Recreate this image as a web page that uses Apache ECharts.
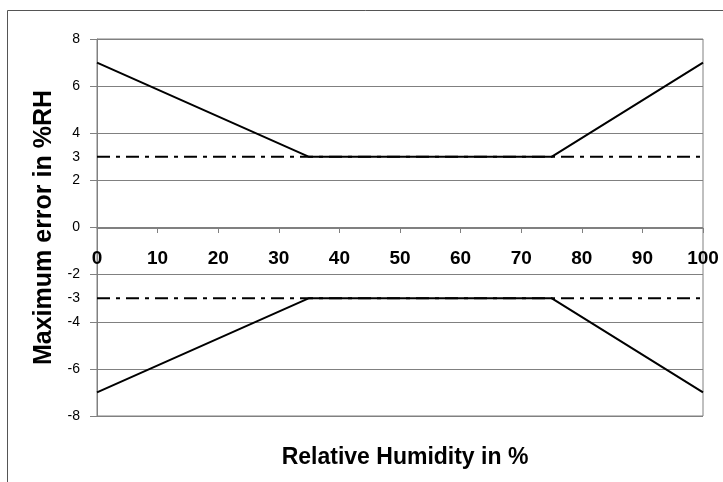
<!DOCTYPE html>
<html>
<head>
<meta charset="utf-8">
<script src="https://cdn.jsdelivr.net/npm/echarts@6/dist/echarts.min.js"></script>
<style>
  html, body { margin: 0; padding: 0; background: #fff; }
  #chart { width: 723px; height: 482px; }
</style>
</head>
<body>
<div id="chart"></div>
<script>
// humidity breakpoints (%RH) and max error envelope
const humidity = [0, 35, 75, 100];
const upperError = [7, 3, 3, 7];
const lowerError = [-7, -3, -3, -7];
// typical accuracy lines
const typicalX = [0, 100];
const typicalUpper = [3, 3];
const typicalLower = [-3, -3];
const yTicks = [-8, -6, -4, -2, 0, 2, 4, 6, 8];
const yLabels = [-8, -6, -4, -3, -2, 0, 2, 3, 4, 6, 8];

const font = "'Liberation Sans', Arial, sans-serif";
const gray = "#808080";

const pairs = (xs, ys) => xs.map((x, i) => [x, ys[i]]);

const chart = echarts.init(document.getElementById("chart"));

const solid = { color: "#000", width: 2 };
const dashDot = { color: "#000", width: 2, type: [13, 6, 4, 6] };

chart.setOption({
  animation: false,
  backgroundColor: "#fff",
  graphic: [
    {
      type: "rect",
      shape: { x: 7.5, y: 10.5, width: 800, height: 600 },
      style: { fill: "none", stroke: "#555", lineWidth: 1 },
      silent: true,
    },
  ],
  title: {
    text: "Relative Humidity in %",
    left: 400,
    textAlign: "center",
    top: 441,
    textStyle: { fontFamily: font, fontSize: 23, fontWeight: "bold", color: "#000" },
  },
  grid: {
    left: 97,
    right: 20,
    top: 39,
    bottom: 66,
    show: true,
    borderColor: gray,
    borderWidth: 1,
  },
  xAxis: {
    type: "value",
    min: 0,
    max: 100,
    interval: 10,
    // move the axis up to the zero line
    offset: -188,
    axisLine: { onZero: false, lineStyle: { color: gray, width: 1 } },
    axisTick: { length: 5, lineStyle: { color: gray } },
    axisLabel: {
      margin: 21,
      fontFamily: font,
      fontSize: 19,
      fontWeight: "bold",
      color: "#000",
    },
    splitLine: { show: false },
  },
  yAxis: {
    type: "value",
    min: -8,
    max: 8,
    interval: 2,
    name: "Maximum error in %RH",
    nameLocation: "middle",
    nameGap: 40,
    nameTextStyle: { fontFamily: font, fontSize: 25, fontWeight: "bold", color: "#000" },
    axisLine: { show: true, lineStyle: { color: gray } },
    axisTick: { show: true, length: 7, customValues: yTicks, lineStyle: { color: gray } },
    axisLabel: { margin: 17, customValues: yLabels, fontFamily: font, fontSize: 14, color: "#000" },
    splitLine: { show: true, lineStyle: { color: gray, width: 1 } },
  },
  series: [
    { type: "line", data: pairs(humidity, upperError), symbol: "none", lineStyle: solid },
    { type: "line", data: pairs(humidity, lowerError), symbol: "none", lineStyle: solid },
    { type: "line", data: pairs(typicalX, typicalUpper), symbol: "none", lineStyle: dashDot },
    { type: "line", data: pairs(typicalX, typicalLower), symbol: "none", lineStyle: dashDot },
  ],
});
</script>
</body>
</html>
